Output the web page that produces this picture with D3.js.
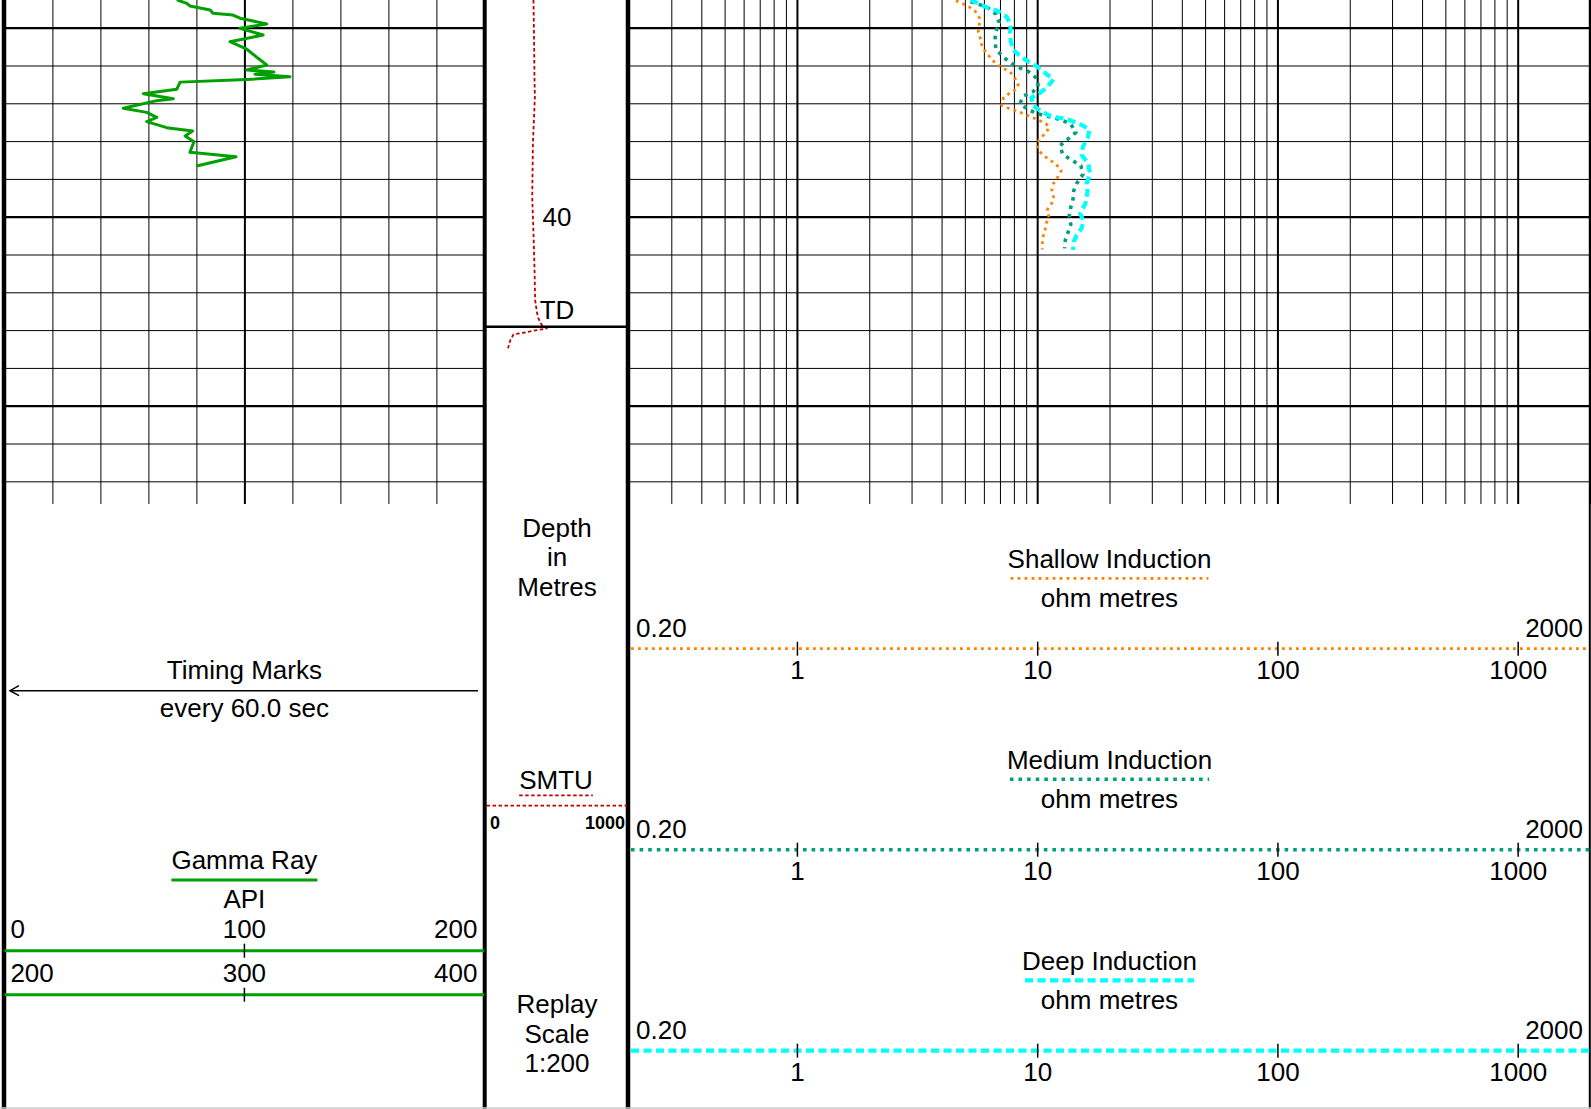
<!DOCTYPE html>
<html>
<head>
<meta charset="utf-8">
<script src="https://cdn.jsdelivr.net/npm/d3@7"></script>
<style>
  body { margin: 0; background: #fff; }
  svg { display: block; font-family: "Liberation Sans", Arial, sans-serif; }
</style>
</head>
<body>
<script>
// ---- data (depth in metres) ----
const grDepth = [28.53, 28.71, 28.85, 29.06, 29.24, 29.33, 29.50, 29.80, 30.03, 30.39, 30.74, 31.14, 31.62, 31.97,
  32.24, 32.35, 32.46, 32.60, 32.74, 32.88, 33.26, 33.49, 33.76, 33.86, 34.26, 34.48, 34.74, 34.97, 35.29, 35.47,
  35.73, 36.03, 36.59, 36.83, 37.32];
const grValue = [71.8, 76.0, 77.3, 85.7, 86.9, 95.2, 98.2, 109.3, 98.2, 107.8, 94.0, 101.0, 105.7, 109.3,
  101.0, 112.3, 104.4, 119.0, 101.0, 73.2, 71.8, 57.9, 70.4, 63.5, 49.5, 59.3, 63.5, 59.3, 67.6, 78.4,
  75.3, 79.0, 77.3, 96.5, 80.1];

const smtuDepth = [28.53, 31.18, 32.59, 33.65, 36.12, 38.94, 40.88, 42.65, 44.41, 45.03, 45.38, 45.73, 45.91,
  46.00, 46.14, 46.22, 46.52, 46.96];
const smtuValue = [332, 337, 339, 342, 328, 323, 332, 339, 344, 356, 367, 391, 427, 356, 261, 190, 167, 150];

const shallowDepth = [28.57, 28.75, 28.92, 29.15, 29.51, 29.86, 30.23, 30.60, 30.92, 31.31, 31.66, 31.94, 32.15,
  32.33, 32.68, 32.98, 33.26, 33.44, 33.74, 34.09, 34.28, 34.39, 34.53, 34.67, 34.83, 35.01, 35.20, 35.47, 35.76,
  36.12, 36.47, 36.79, 37.00, 37.23, 37.56, 37.88, 38.24, 38.59, 38.98, 39.29, 39.65, 40.03, 40.35, 40.67, 41.02,
  41.41, 41.73];
const shallowValue = [4.59, 4.92, 5.24, 5.54, 5.77, 5.74, 5.68, 5.81, 5.87, 6.12, 6.46, 6.77, 7.22,
  7.70, 8.08, 8.34, 8.21, 7.70, 7.22, 7.11, 7.65, 8.13, 8.69, 9.24, 9.88, 10.6, 11.2, 11.0, 10.5,
  9.94, 10.1, 10.7, 11.3, 12.0, 12.6, 12.2, 11.7, 11.5, 11.7, 11.5, 11.0, 11.2, 10.9, 10.8, 10.6,
  10.5, 10.5];

const mediumDepth = [28.62, 28.92, 29.28, 29.73, 30.21, 30.65, 31.11, 31.53, 31.89, 32.13, 32.33, 32.70, 33.12,
  33.40, 33.60, 34.00, 34.32, 34.53, 34.67, 34.76, 34.92, 35.11, 35.54, 35.94, 36.26, 36.70, 37.00, 37.30, 37.76,
  38.24, 38.62, 39.07, 39.50, 39.96, 40.41, 40.76, 41.23, 41.68];
const mediumValue = [5.28, 6.19, 6.73, 6.95, 6.73, 6.67, 6.73, 7.17, 7.82, 8.47, 9.21, 10.0, 10.1,
  9.57, 8.80, 8.47, 9.12, 9.94, 10.8, 11.7, 12.8, 13.8, 14.5, 13.3, 12.4, 12.8, 13.9, 15.2, 15.5,
  14.6, 14.2, 14.1, 13.8, 13.6, 13.8, 13.5, 13.1, 13.0];

const deepDepth = [28.53, 28.75, 28.97, 29.10, 29.42, 29.86, 30.30, 30.74, 31.18, 31.45, 31.80, 32.06, 32.45,
  32.73, 33.15, 33.44, 33.70, 34.09, 34.35, 34.62, 34.74, 34.83, 34.99, 35.18, 35.41, 35.85, 36.29, 36.73, 37.18,
  37.71, 38.24, 38.68, 39.29, 39.82, 40.26, 40.62, 40.97, 41.32, 41.76];
const deepValue = [5.28, 5.77, 6.26, 6.84, 7.46, 7.77, 7.70, 7.77, 7.95, 8.42, 9.18, 10.0, 10.9,
  11.7, 11.0, 10.3, 9.47, 9.57, 10.2, 11.1, 12.0, 13.2, 14.3, 15.5, 16.5, 16.2, 15.5, 15.3, 16.3,
  16.6, 16.1, 16.2, 15.9, 15.1, 15.6, 15.3, 14.6, 14.2, 14.1];

// ---- scales, labels ----
const depthRange = [28.535, 55.2];
const tdDepth = 45.82;
const depthLabels = [40];
const gridDepths = d3.range(30, 55, 2);
const grRange = [0, 200];
const grLabels = [[0, 100, 200], [200, 300, 400]];
const smtuRange = [0, 1000];
const resRange = [0.2, 2000];
const resTicks = [1, 10, 100, 1000];
const resEndLabels = ["0.20", "2000"];

const W = 1591, H = 1109, gridBottom = 504;
const svg = d3.select("body").append("svg").attr("width", W).attr("height", H);

const y = d3.scaleLinear().domain(depthRange).range([0, gridBottom]);
const xGR = d3.scaleLinear().domain(grRange).range([4.4, 484.4]);
const xSM = d3.scaleLinear().domain(smtuRange).range([487, 627]);
const xRes = d3.scaleLog().domain(resRange).range([629, 1590]);

//Grid: gamma ray track
const grV = svg.append("g")
  .call(d3.axisTop(xGR).tickValues(d3.range(0, 201, 20)).tickSize(-gridBottom).tickFormat(""));
grV.select(".domain").remove();
grV.selectAll("line").attr("stroke", "#000").attr("stroke-width", (d) => (d === 100 ? 2 : 1));

const grH = svg.append("g").attr("transform", `translate(${xGR.range()[0]},0)`)
  .call(d3.axisLeft(y).tickValues(gridDepths).tickSize(-(xGR.range()[1] - xGR.range()[0])).tickFormat(""));
grH.select(".domain").remove();
grH.selectAll("line").attr("stroke", "#000").attr("stroke-width", (d) => (d % 10 === 0 ? 2.2 : 1));

//Grid: resistivity track (log)
const resV = svg.append("g")
  .call(d3.axisTop(xRes).tickValues(xRes.ticks()).tickSize(-gridBottom).tickFormat(""));
resV.select(".domain").remove();
resV.selectAll("line").attr("stroke", "#000")
  .attr("stroke-width", (d) => (Math.abs(Math.log10(d) % 1) < 1e-9 ? 2 : 1));

const resH = svg.append("g").attr("transform", `translate(${xRes.range()[0]},0)`)
  .call(d3.axisLeft(y).tickValues(gridDepths).tickSize(-(xRes.range()[1] - xRes.range()[0])).tickFormat(""));
resH.select(".domain").remove();
resH.selectAll("line").attr("stroke", "#000").attr("stroke-width", (d) => (d % 10 === 0 ? 2.2 : 1));

//Curves
const clip = svg.append("clipPath").attr("id", "gridclip");
clip.append("rect").attr("x", 0).attr("y", 0).attr("width", W).attr("height", gridBottom);

const curves = svg.append("g").attr("clip-path", "url(#gridclip)");

const drawCurve = (depths, values, xScale, style) => {
  const line = d3.line().x((d) => xScale(d[1])).y((d) => y(d[0]));
  curves.append("path")
    .datum(d3.zip(depths, values))
    .attr("d", line)
    .attr("fill", "none")
    .attr("stroke", style.color)
    .attr("stroke-width", style.width)
    .attr("stroke-dasharray", style.dash)
    .attr("stroke-linejoin", "round");
};

const styles = {
  gr: { color: "#00a000", width: 3, dash: null },
  smtu: { color: "#c00000", width: 1.8, dash: "3.5 2.5" },
  shallow: { color: "#ff8000", width: 2.8, dash: "2.8 4.2" },
  medium: { color: "#00a07c", width: 3.6, dash: "3.6 5" },
  deep: { color: "#00ffff", width: 4.2, dash: "8 4.5" }
};

drawCurve(grDepth, grValue, xGR, styles.gr);
drawCurve(smtuDepth, smtuValue, xSM, styles.smtu);
drawCurve(shallowDepth, shallowValue, xRes, styles.shallow);
drawCurve(mediumDepth, mediumValue, xRes, styles.medium);
drawCurve(deepDepth, deepValue, xRes, styles.deep);

//Depth track labels and TD
const depthMid = (xSM.range()[0] + xSM.range()[1]) / 2;
svg.append("line")
  .attr("x1", 485).attr("x2", 628)
  .attr("y1", y(tdDepth)).attr("y2", y(tdDepth))
  .attr("stroke", "#000").attr("stroke-width", 2.6);

svg.selectAll(".depthlabel").data(depthLabels).enter().append("text")
  .attr("class", "depthlabel")
  .attr("x", depthMid).attr("y", (d) => y(d) + 9.3)
  .attr("text-anchor", "middle").attr("font-size", 26).text((d) => d);

svg.append("text").attr("x", depthMid).attr("y", y(tdDepth) - 7.5)
  .attr("text-anchor", "middle").attr("font-size", 26).text("TD");

//Track borders
[[4, 4.5], [484.7, 4], [628, 4.5], [1589.8, 2]].forEach(([x, w]) => {
  svg.append("line").attr("x1", x).attr("x2", x).attr("y1", 0).attr("y2", H)
    .attr("stroke", "#000").attr("stroke-width", w);
});
svg.append("line").attr("x1", 0).attr("x2", W).attr("y1", H - 1).attr("y2", H - 1)
  .attr("stroke", "#ccc").attr("stroke-width", 1.5);

//Header helpers
const addText = (x, yy, str, anchor, size, weight) =>
  svg.append("text").attr("x", x).attr("y", yy)
    .attr("text-anchor", anchor || "middle")
    .attr("font-size", size || 26)
    .attr("font-weight", weight || "normal")
    .text(str);

const addLine = (x1, x2, yy, style) =>
  svg.append("line").attr("x1", x1).attr("x2", x2).attr("y1", yy).attr("y2", yy)
    .attr("stroke", style.color).attr("stroke-width", style.width)
    .attr("stroke-dasharray", style.dash);

const underline = (textSel, yy, style, inset) => {
  const bb = textSel.node().getBBox();
  addLine(bb.x + inset, bb.x + bb.width - inset, yy, style);
};

//Gamma track header
const grMid = (xGR.range()[0] + xGR.range()[1]) / 2;
addText(grMid, 679.3, "Timing Marks");
svg.append("line").attr("x1", 10).attr("x2", 478).attr("y1", 690.7).attr("y2", 690.7)
  .attr("stroke", "#000").attr("stroke-width", 1.5);
svg.append("path").attr("d", "M19,685.7L10,690.7L19,695.7").attr("fill", "none")
  .attr("stroke", "#000").attr("stroke-width", 1.5);
addText(grMid, 716.7, "every 60.0 sec");

const grTitle = addText(grMid, 869.3, "Gamma Ray");
underline(grTitle, 880, { color: "#00a000", width: 3, dash: null }, 0);
addText(grMid, 908.3, "API");

grLabels.forEach((labels, i) => {
  const lineY = 950.7 + i * 44;
  labels.forEach((v, j) => {
    const anchor = j === 0 ? "start" : j === labels.length - 1 ? "end" : "middle";
    const x = j === 0 ? xGR.range()[0] + 6 : j === labels.length - 1 ? xGR.range()[1] - 7 : grMid;
    addText(x, lineY - 12.4, v, anchor);
  });
  addLine(xGR.range()[0], xGR.range()[1], lineY, { color: "#00a000", width: 3, dash: null });
  svg.append("line").attr("x1", grMid).attr("x2", grMid).attr("y1", lineY - 7).attr("y2", lineY + 7)
    .attr("stroke", "#000").attr("stroke-width", 1.5);
});

//Depth track header
["Depth", "in", "Metres"].forEach((s, i) => addText(depthMid, 537 + i * 29.4, s));
const smTitle = addText(depthMid - 1, 789.3, "SMTU");
underline(smTitle, 795.3, { color: "#c00000", width: 1.8, dash: "3.5 2.5" }, 0);
addLine(486.5, 627, 805.7, { color: "#c00000", width: 1.8, dash: "3.5 2.5" });
addText(490, 829, smtuRange[0], "start", 18, "bold");
addText(625, 829, smtuRange[1], "end", 18, "bold");
["Replay", "Scale", "1:200"].forEach((s, i) => addText(depthMid, 1013.3 + i * 29.4, s));

//Resistivity headers
const resMid = (xRes.range()[0] + xRes.range()[1]) / 2;
const resHeaders = [
  { name: "Shallow Induction", style: styles.shallow, top: 567.7 },
  { name: "Medium Induction", style: styles.medium, top: 768.7 },
  { name: "Deep Induction", style: styles.deep, top: 969.7 }
];

resHeaders.forEach((h) => {
  const t = addText(resMid, h.top, h.name);
  underline(t, h.top + 10.6, h.style, 3);
  addText(resMid, h.top + 39.6, "ohm metres");
  addText(xRes.range()[0] + 7, h.top + 69.6, resEndLabels[0], "start");
  addText(xRes.range()[1] - 7, h.top + 69.6, resEndLabels[1], "end");
  addLine(xRes.range()[0] + 2, xRes.range()[1], h.top + 81, h.style);

  const ax = svg.append("g").attr("transform", `translate(0,${h.top + 81})`)
    .call(d3.axisBottom(xRes).tickValues(resTicks).tickSizeInner(7).tickSizeOuter(0).tickPadding(4.5)
      .tickFormat(d3.format("d")));
  ax.select(".domain").remove();
  ax.selectAll("line").attr("y1", -7).attr("stroke", "#000").attr("stroke-width", 1.5);
  ax.selectAll("text").attr("font-size", 26).attr("fill", "#000")
    .attr("font-family", "'Liberation Sans', Arial, sans-serif");
});
</script>
</body>
</html>
